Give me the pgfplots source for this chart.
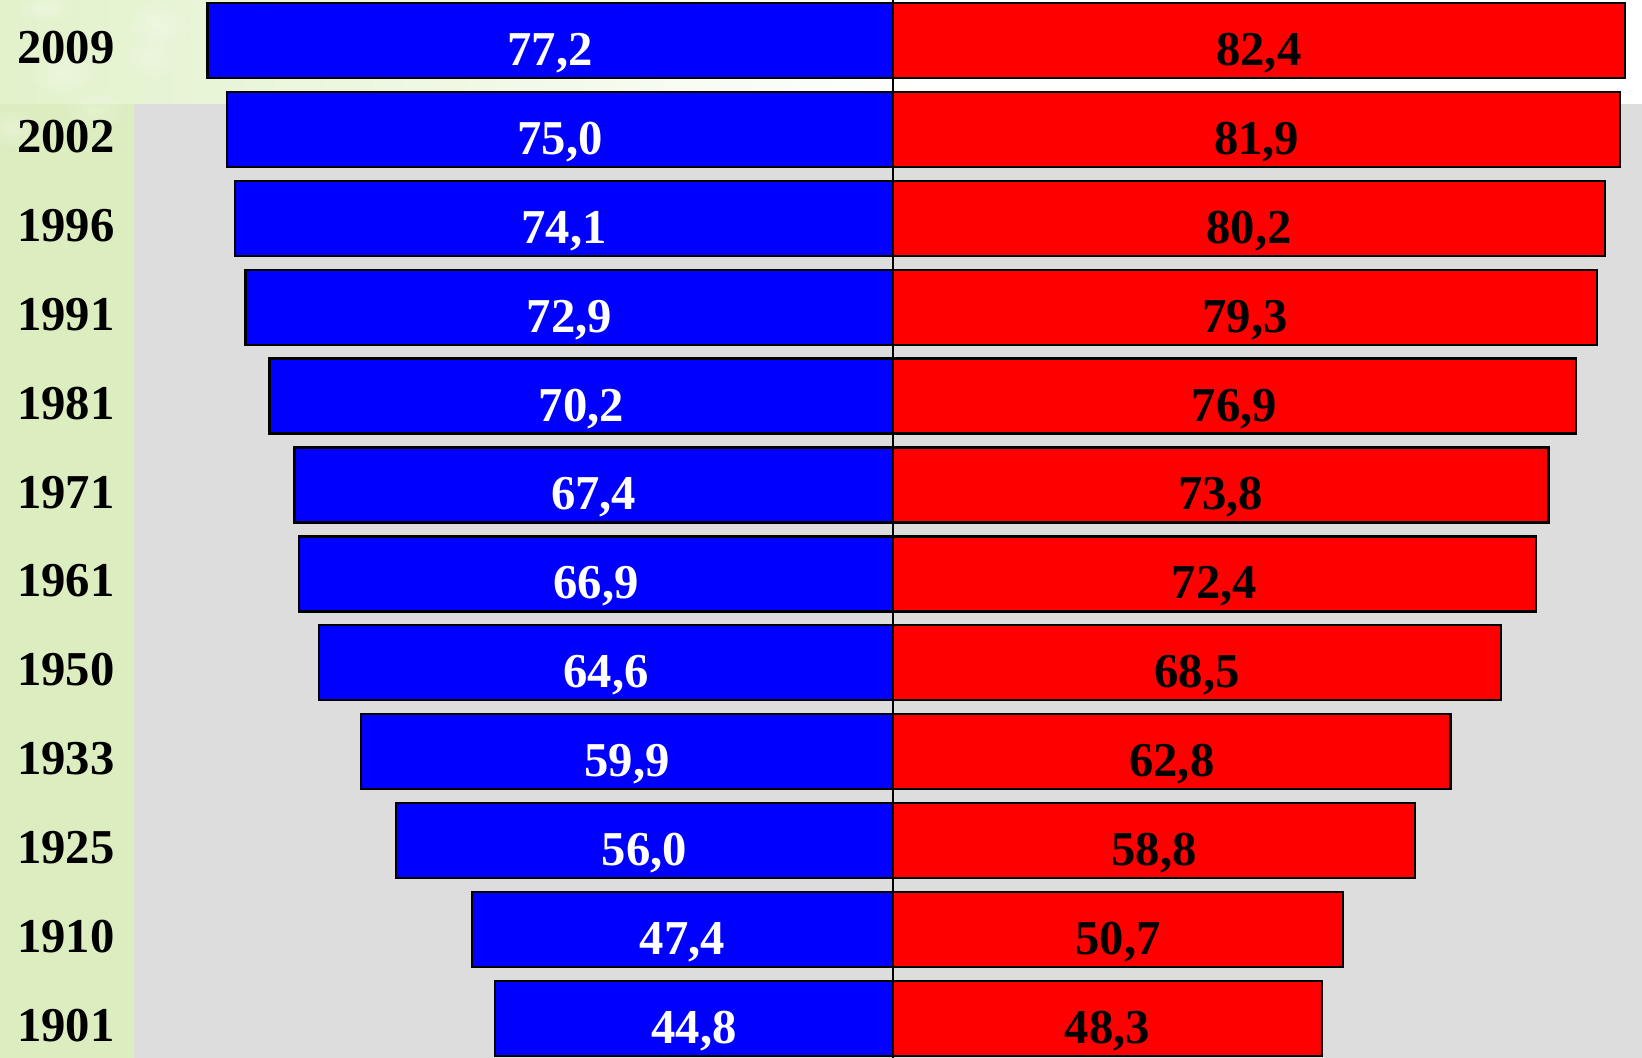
\documentclass[border=0pt]{standalone}
\usepackage{pgfplots}
\pgfplotsset{compat=1.18}
\usepackage{pgfplotstable}
\usepackage{fontspec}
\setmainfont{Liberation Serif}
\usetikzlibrary{fadings}

\definecolor{menblue}{RGB}{0,0,255}
\definecolor{womenred}{RGB}{255,0,0}
\definecolor{panelgray}{RGB}{221,221,221}
\definecolor{stripgreen}{RGB}{220,237,191}
\definecolor{topgreen}{RGB}{226,242,203}

\newcommand\labfont{\fontsize{14.6pt}{16pt}\selectfont\bfseries}

% life expectancy at birth: men (m) and women (w)
\pgfplotstableread{
i year m    w
0 2009 77.2 82.4
1 2002 75.0 81.9
2 1996 74.1 80.2
3 1991 72.9 79.3
4 1981 70.2 76.9
5 1971 67.4 73.8
6 1961 66.9 72.4
7 1950 64.6 68.5
8 1933 59.9 62.8
9 1925 56.0 58.8
10 1910 47.4 50.7
11 1901 44.8 48.3
}\lifetable

\tikzfading[name=softblob, inner color=transparent!0, outer color=transparent!100]

\begin{document}
\begin{tikzpicture}
\begin{axis}[
  scale only axis,
  width=492.6pt, height=317.4pt,
  xmin=-100.56, xmax=84.35,
  ymin=-0.4556, ymax=11.4454,
  y dir=reverse,
  hide axis,
  clip=true,
  /pgf/number format/assume math mode=true,
]
% background panels
\fill[stripgreen] (axis cs:-100.56,-0.4556) rectangle (axis cs:84.35,11.4454);
\fill[white] (axis cs:-85.47,-0.4556) rectangle (axis cs:84.35,0.714);
\shade[left color=topgreen, right color=white] (axis cs:-100.56,-0.4556) rectangle (axis cs:5,0.714);
\fill[stripgreen] (axis cs:-100.56,0.714) rectangle (axis cs:-85.47,11.4454);
\fill[panelgray] (axis cs:-85.47,0.714) rectangle (axis cs:84.35,11.4454);
% soft light blobs in the top corner
\fill[white, fill opacity=0.3, path fading=softblob] (axis cs:-82.88,-0.174) ellipse (10pt and 7.5pt);
\fill[white, fill opacity=0.3, path fading=softblob] (axis cs:-93.47,0.366) ellipse (11pt and 8pt);
\fill[white, fill opacity=0.25, path fading=softblob] (axis cs:-83.67,0.186) ellipse (9pt and 6.5pt);
\fill[white, fill opacity=0.3, path fading=softblob] (axis cs:-99.21,0.984) ellipse (9pt and 7pt);
\fill[white, fill opacity=0.25, path fading=softblob] (axis cs:-89.86,0.782) ellipse (11pt and 7pt);
\fill[white, fill opacity=0.3, path fading=softblob] (axis cs:-95.50,-0.366) ellipse (9pt and 4.5pt);
\fill[white, fill opacity=0.25, path fading=softblob] (axis cs:-74.66,-0.118) ellipse (7pt and 5.5pt);
% centre line
\draw[black, line width=0.5pt] (axis cs:0,-0.4556) -- (axis cs:0,11.4454);

% men, to the left
\addplot[xbar, bar shift=0pt, bar width=0.844, fill=menblue, draw=black, line width=0.7pt]
  table[x expr=-\thisrow{m}, y=i] {\lifetable};
% women, to the right
\addplot[xbar, bar shift=0pt, bar width=0.844, fill=womenred, draw=black, line width=0.7pt]
  table[x=w, y=i] {\lifetable};

% value labels centred in the bars
\addplot[draw=none, point meta=\thisrow{m},
  nodes near coords={\pgfmathprintnumber[fixed,fixed zerofill,precision=1,use comma]{\pgfplotspointmeta}},
  nodes near coords style={anchor=base, font=\labfont, text=white, inner sep=0pt}]
  table[x expr=-\thisrow{m}/2, y expr=\thisrow{i}+0.281] {\lifetable};
\addplot[draw=none, point meta=\thisrow{w},
  nodes near coords={\pgfmathprintnumber[fixed,fixed zerofill,precision=1,use comma]{\pgfplotspointmeta}},
  nodes near coords style={anchor=base, font=\labfont, text=black, inner sep=0pt}]
  table[x expr=\thisrow{w}/2, y expr=\thisrow{i}+0.281] {\lifetable};

% years in the left strip
\addplot[draw=none, point meta=explicit symbolic,
  nodes near coords={\pgfplotspointmeta},
  nodes near coords style={anchor=base, font=\labfont, text=black, inner sep=0pt}]
  table[x expr=-93.13, y expr=\thisrow{i}+0.259, meta=year] {\lifetable};
\end{axis}
\end{tikzpicture}
\end{document}
